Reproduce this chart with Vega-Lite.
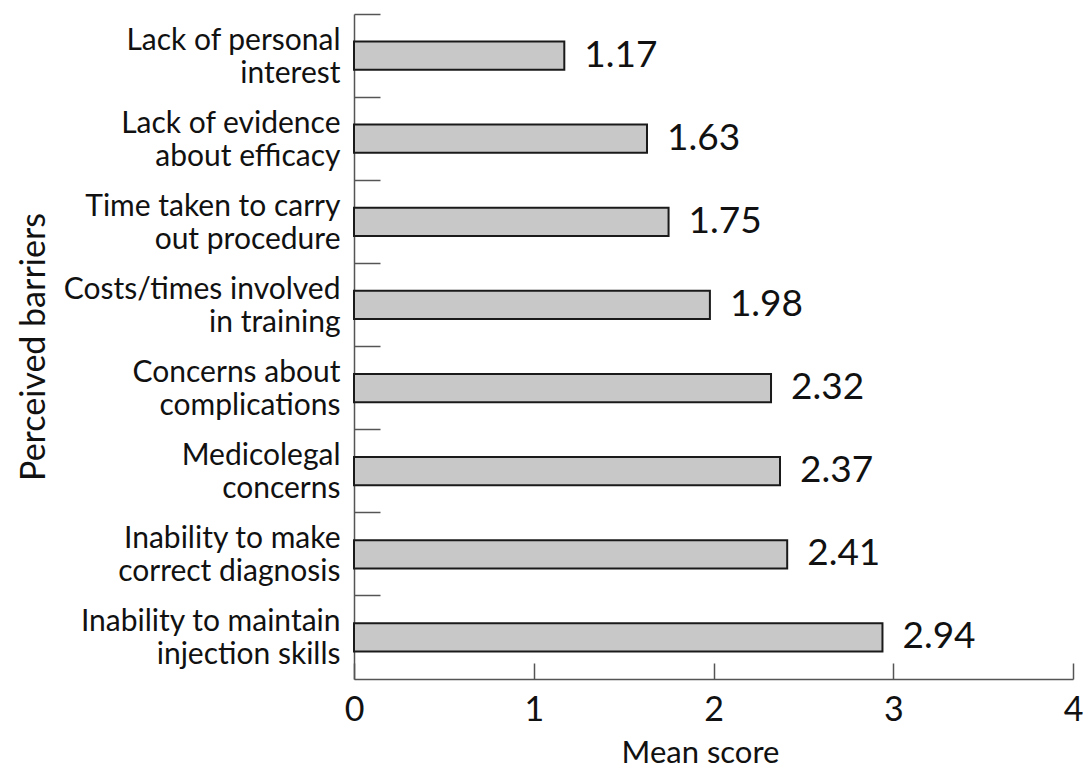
{
  "$schema": "https://vega.github.io/schema/vega-lite/v6.json",
  "width": 719,
  "height": 665,
  "autosize": {"type": "none"},
  "padding": {"left": 354, "top": 14, "right": 13, "bottom": 90},
  "background": "white",
  "config": {
    "view": {"stroke": null},
    "font": "Lato",
    "axis": {"grid": false, "domainColor": "#555", "domainWidth": 1.5, "tickColor": "#555", "tickWidth": 1.5, "labelColor": "#111", "titleColor": "#111", "titleFontWeight": "normal", "labelFont": "Lato", "titleFont": "Lato"}
  },
  "data": {
    "values": [
      {"barrier": "Lack of personal|interest", "score": 1.17},
      {"barrier": "Lack of evidence|about efficacy", "score": 1.63},
      {"barrier": "Time taken to carry|out procedure", "score": 1.75},
      {"barrier": "Costs/times involved|in training", "score": 1.98},
      {"barrier": "Concerns about|complications", "score": 2.32},
      {"barrier": "Medicolegal|concerns", "score": 2.37},
      {"barrier": "Inability to make|correct diagnosis", "score": 2.41},
      {"barrier": "Inability to maintain|injection skills", "score": 2.94}
    ]
  },
  "encoding": {
    "y": {
      "field": "barrier", "type": "nominal", "sort": null,
      "scale": {"paddingInner": 0.66, "paddingOuter": 0.33},
      "axis": {
        "title": "Perceived barriers", "titleFontSize": 34, "titleX": -310, "titleBaseline": "alphabetic", "titlePadding": 0,
        "labelExpr": "split(datum.label, '|')", "labelFontSize": 30, "labelLineHeight": 33, "labelLimit": 400,
        "labelPadding": 40, "labelOffset": -15, "tickSize": -26, "bandPosition": -0.97, "labelBaseline": "middle"
      }
    }
  },
  "layer": [
    {
      "mark": {"type": "bar", "fill": "#c8c8c8", "stroke": "#1a1a1a", "strokeWidth": 2},
      "encoding": {
        "x": {
          "field": "score", "type": "quantitative",
          "scale": {"domain": [0, 4], "nice": false},
          "axis": {"title": "Mean score", "titleFontSize": 31, "titleX": 346, "titleY": 83, "titleBaseline": "alphabetic",
                   "values": [0, 1, 2, 3, 4], "format": "d", "labelFontSize": 34, "labelPadding": 30, "tickSize": -16, "labelFlush": false}
        }
      }
    },
    {
      "mark": {"type": "text", "align": "left", "baseline": "middle", "dx": 20, "fontSize": 37, "font": "Lato", "color": "#111"},
      "encoding": {
        "x": {"field": "score", "type": "quantitative"},
        "text": {"field": "score", "type": "quantitative", "format": ".2f"}
      }
    }
  ]
}
